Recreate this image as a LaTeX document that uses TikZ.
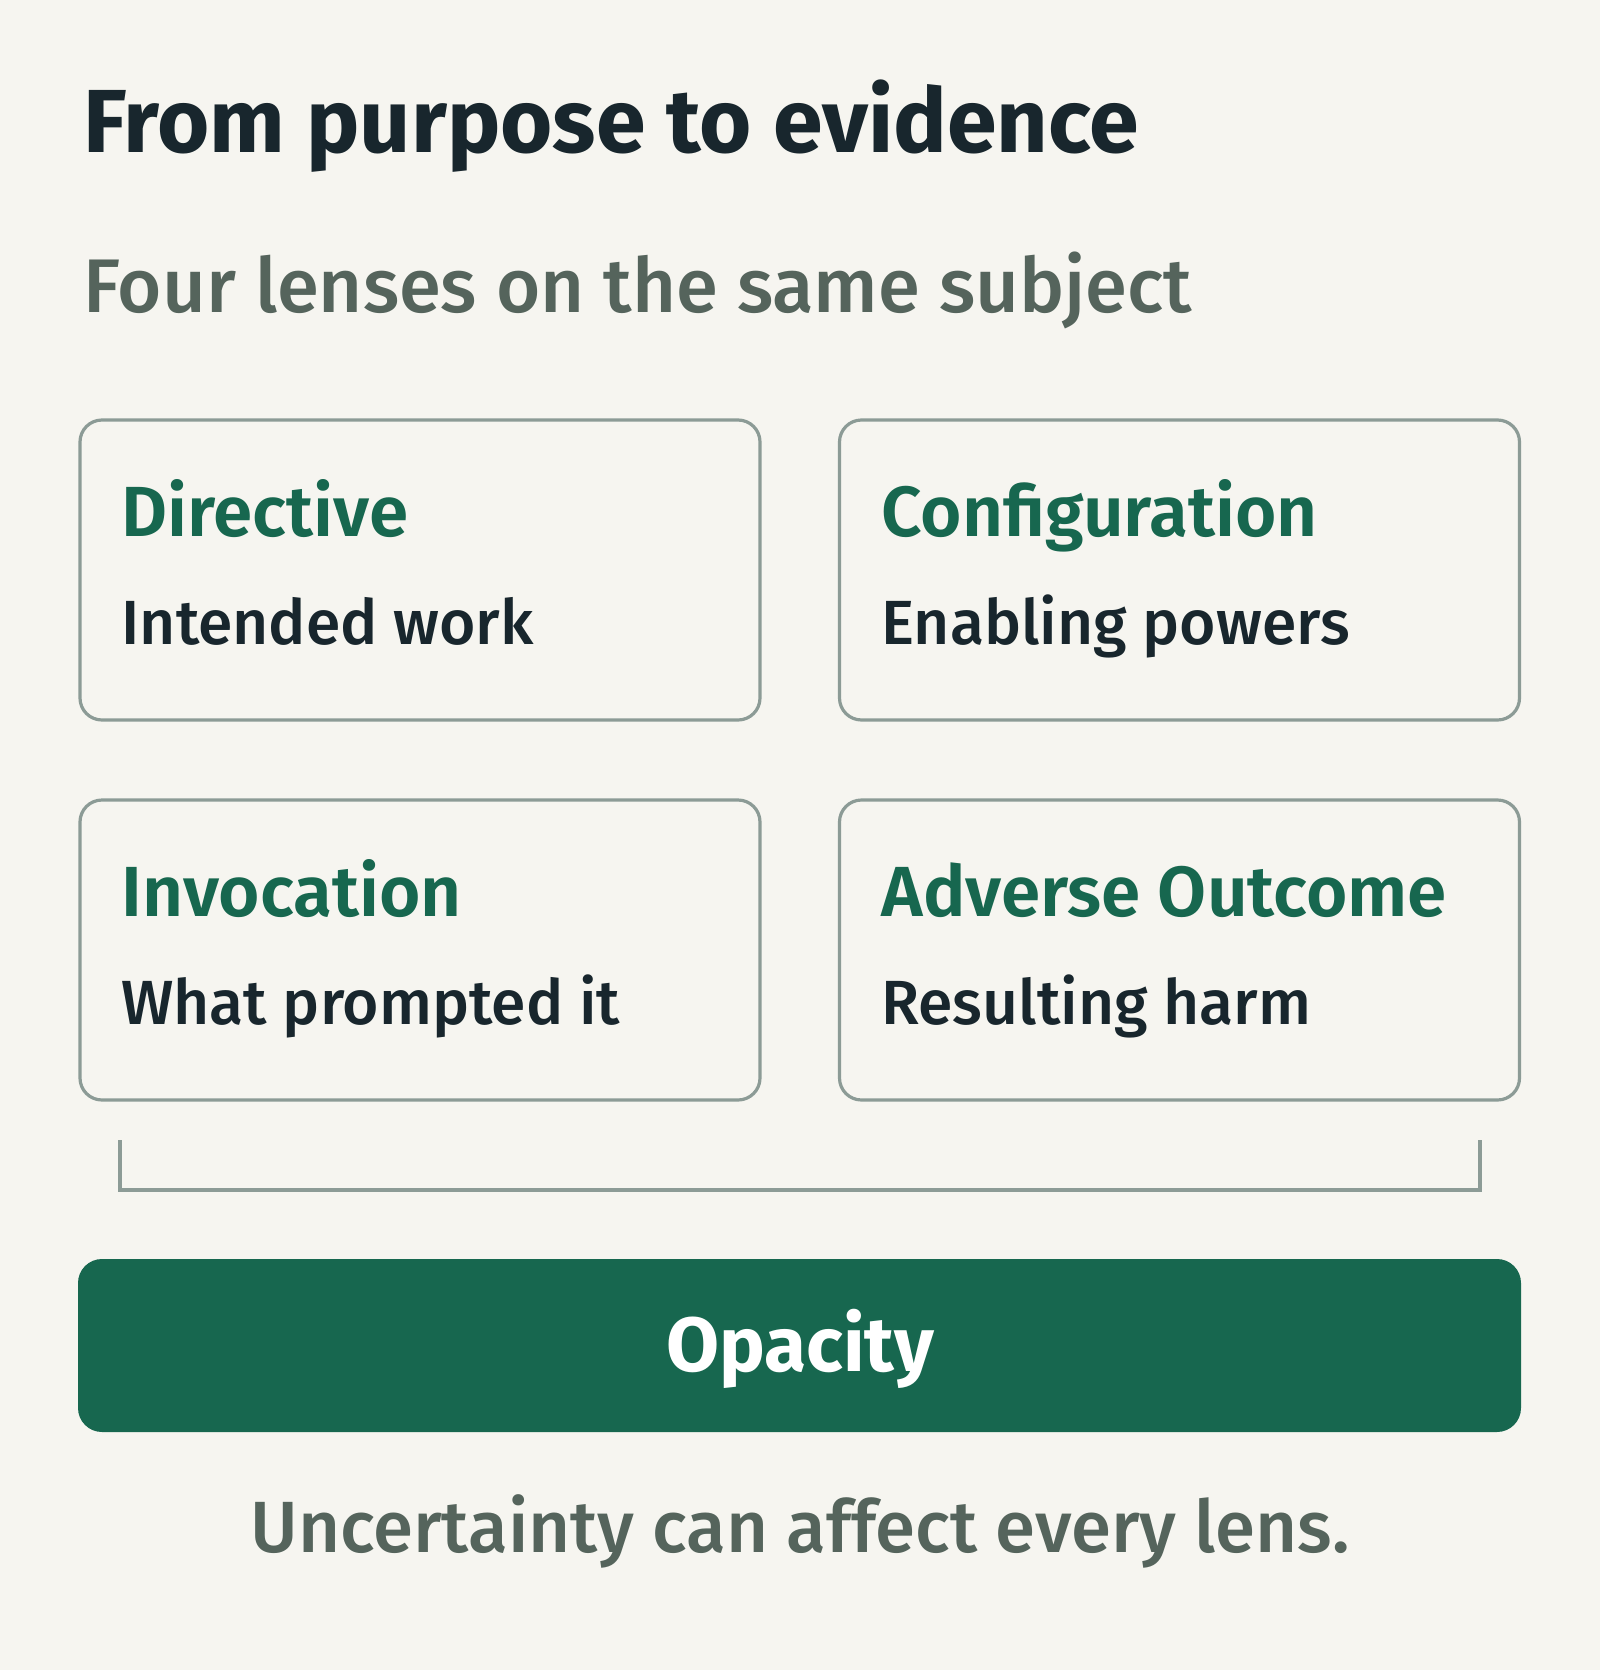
\documentclass[tikz,border=0pt]{standalone}
\usepackage{fontspec}
\setmainfont{Fira Sans}
\newfontfamily\fmed{Fira Sans Medium}
\newfontfamily\fsemi{Fira Sans SemiBold}
\definecolor{bg}{HTML}{F6F5F0}
\definecolor{ink}{HTML}{18262D}
\definecolor{lensgreen}{HTML}{17674F}
\definecolor{edge}{HTML}{8C9B96}
\definecolor{muted}{HTML}{55645C}
\tikzset{
  lensbox/.style={draw=edge, line width=1.6pt, rounded corners=11pt, fill=bg,
    minimum width=340pt, minimum height=150pt, inner sep=0pt},
  lenstitle/.style={anchor=base west, inner sep=0pt, text=lensgreen,
    font=\fontsize{35.5}{42}\selectfont\fsemi},
  lenssub/.style={anchor=base west, inner sep=0pt, text=ink,
    font=\fontsize{31.2}{38}\selectfont\fmed},
  bracketline/.style={draw=edge, line width=1.7pt},
}
\begin{document}
\begin{tikzpicture}[x=0.5pt,y=-0.5pt]
\useasboundingbox[fill=bg] (0,0) rectangle (1600,1670);
\node[anchor=base west, inner sep=0pt, text=ink, font=\fontsize{44.8}{52}\selectfont\bfseries] (title) at (83,152) {From purpose to evidence};
\node[anchor=base west, inner sep=0pt, text=muted, font=\fontsize{38}{46}\selectfont\fmed] (subtitle) at (83,312) {Four lenses on the same subject};
\node[lensbox] (b1) at (420,570) {};
\node[lensbox] (b2) at (1179.5,570) {};
\node[lensbox] (b3) at (420,950) {};
\node[lensbox] (b4) at (1179.5,950) {};
\node[lenstitle] (t1) at (121,536) {Directive};
\node[lenssub] (s1) at (121,644) {Intended work};
\node[lenstitle] (t2) at (881,536) {Configuration};
\node[lenssub] (s2) at (881,644) {Enabling powers};
\node[lenstitle] (t3) at (121,916) {Invocation};
\node[lenssub] (s3) at (121,1024) {What prompted it};
\node[lenstitle] (t4) at (881,916) {Adverse Outcome};
\node[lenssub] (s4) at (881,1024) {Resulting harm};
\coordinate (bl) at (120,1140);
\coordinate (blc) at (120,1190);
\coordinate (brc) at (1480,1190);
\coordinate (br) at (1480,1140);
\draw[bracketline] (bl) -- (blc) -- (brc) -- (br);
\node[fill=lensgreen, rounded corners=12pt, minimum width=721.5pt, minimum height=86.5pt, inner sep=0pt] (opacity) at (799.5,1345.5) {};
\node[anchor=base, inner sep=0pt, text=white, font=\fontsize{38.4}{46}\selectfont\bfseries] (opacitytext) at (800,1371) {Opacity};
\node[anchor=base, inner sep=0pt, text=muted, font=\fontsize{36.3}{44}\selectfont\fmed] (footer) at (800,1552) {Uncertainty can affect every lens.};
\end{tikzpicture}
\end{document}
